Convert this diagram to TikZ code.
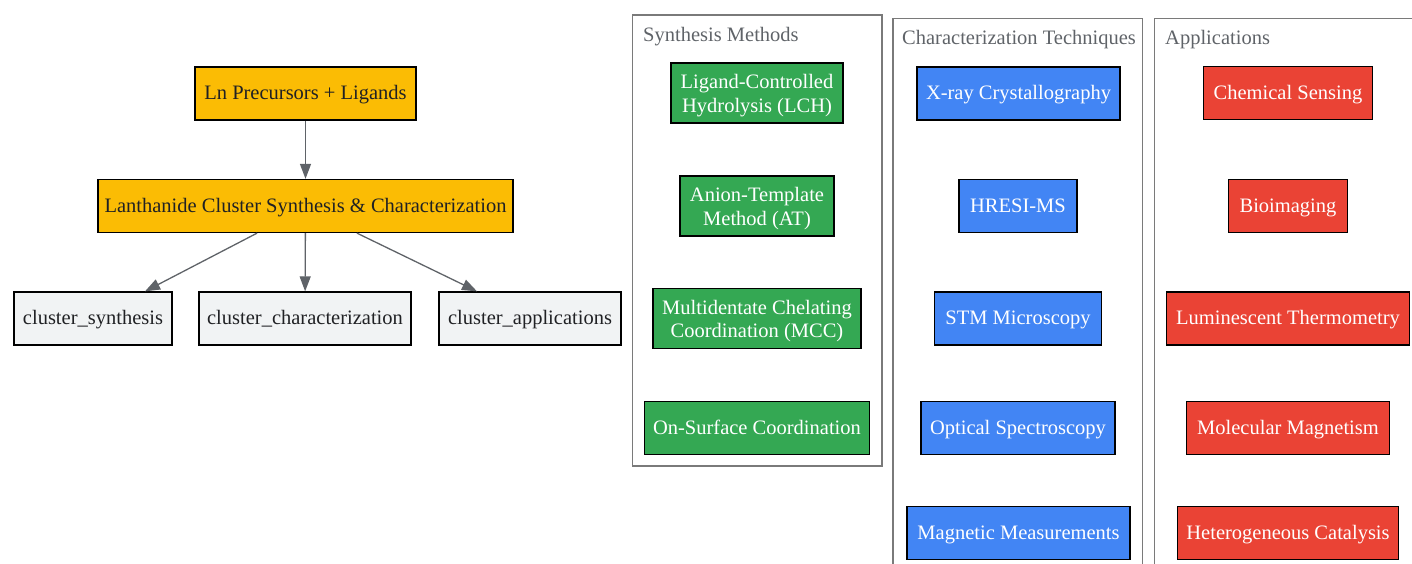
\documentclass[tikz,border=0pt]{standalone}
\usepackage{fontspec}
\setmainfont{Liberation Serif}
\usetikzlibrary{arrows.meta}
\definecolor{amber}{HTML}{FBBC04}
\definecolor{ggreen}{HTML}{34A853}
\definecolor{gblue}{HTML}{4285F4}
\definecolor{gred}{HTML}{EA4335}
\definecolor{glight}{HTML}{F1F3F4}
\definecolor{garrow}{HTML}{5F6368}
\definecolor{gframe}{HTML}{7A7A7A}
\definecolor{gtext}{HTML}{202124}
\tikzset{
  box/.style={draw=black, line width=1.3pt, inner sep=0pt, minimum height=53pt, align=center,
    font=\fontsize{20.5}{23.5}\selectfont, text height=16.4pt, text depth=3.7pt},
  twoline/.style={minimum height=60pt, text height=41.7pt, text depth=3.7pt},
  amberbox/.style={box, fill=amber, text=gtext},
  greybox/.style={box, fill=glight, text=gtext},
  greenbox/.style={box, fill=ggreen, text=white},
  bluebox/.style={box, fill=gblue, text=white},
  redbox/.style={box, fill=gred, text=white},
  frame/.style={draw=gframe, line width=1.3pt},
  framelabel/.style={anchor=base west, text=garrow, inner sep=0pt, font=\fontsize{20.5}{24.5}\selectfont},
  conn/.style={draw=garrow, line width=1.3pt, -{Triangle[length=15pt,width=11pt]}}
}
\begin{document}
\begin{tikzpicture}[x=1pt,y=-1pt]
\useasboundingbox (0,0) rectangle (1412,563);
% clusters
\draw[frame] (632.5,15) rectangle (882,466);
\draw[frame] (893,18.5) rectangle (1142.5,600);
\draw[frame] (1154.5,18.5) rectangle (1440,600);
\node[framelabel] (lsyn) at (643,41) {Synthesis Methods};
\node[framelabel] (lcha) at (902,44) {Characterization Techniques};
\node[framelabel] (lapp) at (1165,44) {Applications};
% left graph
\node[amberbox, minimum width=221pt] (ln) at (305.5,93.5) {Ln Precursors + Ligands};
\node[amberbox, minimum width=415pt] (lan) at (305.5,206) {Lanthanide Cluster Synthesis \& Characterization};
\node[greybox, minimum width=158pt] (syn) at (93,318.5) {cluster\_synthesis};
\node[greybox, minimum width=212pt] (cha) at (305,318.5) {cluster\_characterization};
\node[greybox, minimum width=182pt] (app) at (530,318.5) {cluster\_applications};
\draw[conn] (ln) -- (lan);
\draw[conn] ([xshift=-48.5pt]lan.south) -- ([xshift=52pt]syn.north);
\draw[conn] (lan) -- (cha);
\draw[conn] ([xshift=51.5pt]lan.south) -- ([xshift=-53pt]app.north);
% synthesis
\node[greenbox, twoline, minimum width=172pt] (lch) at (757,93) {Ligand-Controlled\\Hydrolysis (LCH)};
\node[greenbox, twoline, minimum width=154pt] (at) at (757,206) {Anion-Template\\Method (AT)};
\node[greenbox, twoline, minimum width=208pt] (mcc) at (757,318.5) {Multidentate Chelating\\Coordination (MCC)};
\node[greenbox, minimum width=225pt] (osc) at (757,428) {On-Surface Coordination};
% characterization
\node[bluebox, minimum width=203pt] (xray) at (1018.5,93.5) {X-ray Crystallography};
\node[bluebox, minimum width=118pt] (hresi) at (1018,206) {HRESI-MS};
\node[bluebox, minimum width=167pt] (stm) at (1018,318.5) {STM Microscopy};
\node[bluebox, minimum width=194pt] (opt) at (1018,428) {Optical Spectroscopy};
\node[bluebox, minimum width=223pt] (mag) at (1018.5,533) {Magnetic Measurements};
% applications
\node[redbox, minimum width=169pt] (chem) at (1288,93) {Chemical Sensing};
\node[redbox, minimum width=119pt] (bio) at (1288,206) {Bioimaging};
\node[redbox, minimum width=243pt] (lum) at (1288,318.5) {Luminescent Thermometry};
\node[redbox, minimum width=203pt] (mol) at (1288,428) {Molecular Magnetism};
\node[redbox, minimum width=221pt] (het) at (1288,533) {Heterogeneous Catalysis};
\end{tikzpicture}
\end{document}
